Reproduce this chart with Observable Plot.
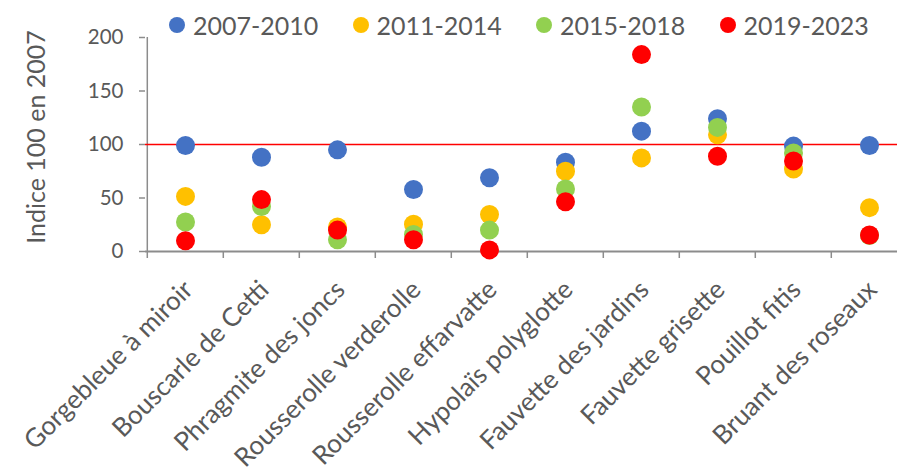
<!DOCTYPE html>
<html>
<head>
<meta charset="utf-8">
<script src="https://cdn.jsdelivr.net/npm/d3@7"></script>
<script src="https://cdn.jsdelivr.net/npm/@observablehq/plot@0.6"></script>
<style>
  html, body { margin: 0; padding: 0; background: #fff; }
  #wrap { position: relative; width: 897px; height: 475px; overflow: hidden; font-family: Lato, "Open Sans", sans-serif; }
  #legend { position: absolute; top: 10px; left: 169px; display: flex; z-index: 2; }
  .item { width: 183.5px; display: flex; align-items: center; font-size: 25px; color: #595959; line-height: 30px; }
  .sw { width: 16px; height: 16px; border-radius: 50%; margin-right: 8px; flex: none; }
  #ytitle { position: absolute; left: 35px; top: 137px; transform: translate(-50%, -50%) rotate(-90deg); font-size: 25px; color: #595959; white-space: nowrap; z-index: 2; }
</style>
</head>
<body>
<div id="wrap"></div>
<script>
const categories = ["Gorgebleue à miroir", "Bouscarle de Cetti", "Phragmite des joncs", "Rousserolle verderolle", "Rousserolle effarvatte", "Hypolaïs polyglotte", "Fauvette des jardins", "Fauvette grisette", "Pouillot fitis", "Bruant des roseaux"];
const periods = ["2007-2010", "2011-2014", "2015-2018", "2019-2023"];
const colors = ["#4472C4", "#FFC000", "#92D050", "#FF0000"];
const s2007_2010 = [99, 88, 95, 58, 69, 83.5, 112.5, 124, 98.5, 99];
const s2011_2014 = [51.5, 25, 23, 25.5, 34.5, 75, 87.5, 109, 77, 41];
const s2015_2018 = [27.5, 42, 11, 16, 20, 58.5, 135, 116, 92, 15];
const s2019_2023 = [10, 48.5, 20, 11, 1.5, 46.5, 184, 89, 84.5, 15.5];
const yTicks = [0, 50, 100, 150, 200];
const refValue = 100;
const yTitle = "Indice 100 en 2007";

const seriesValues = [s2007_2010, s2011_2014, s2015_2018, s2019_2023];
const rows = [];
periods.forEach((p, j) => categories.forEach((c, i) => rows.push({cat: c, period: p, value: seriesValues[j][i]})));

const gray = "#8c8c8c";
const half = -(909 - 145) / categories.length / 2;

const chart = Plot.plot({
  width: 897,
  height: 475,
  marginTop: 37,
  marginBottom: 224,
  marginLeft: 145,
  marginRight: 0,
  style: {fontFamily: "Lato, 'Open Sans', sans-serif", color: "#595959", background: "white", overflow: "visible"},
  x: {type: "band", domain: categories, range: [145, 909], padding: 0, label: null},
  y: {domain: [0, 200], label: null},
  color: {domain: periods, range: colors},
  marks: [
    Plot.ruleX([categories[0]], {y1: 0, y2: 200, dx: half, stroke: gray, strokeWidth: 1.5}),
    Plot.ruleX(categories, {y1: 0, y2: 0, insetBottom: -7, dx: half, stroke: gray, strokeWidth: 1.5}),
    Plot.axisY({ticks: yTicks, tickSize: 6, tickPadding: 16, fontSize: 20.5, stroke: gray, strokeWidth: 1.5, label: null}),
    Plot.ruleY([0], {stroke: gray, strokeWidth: 2}),
    Plot.axisX({tickSize: 0, tickPadding: 0, tickRotate: -45, fontSize: 26, dx: 3, dy: 34, label: null}),
    Plot.ruleY([refValue], {stroke: "#FF0000", strokeWidth: 1.3}),
    Plot.dot(rows, {x: "cat", y: "value", fill: "period", r: 9.5})
  ]
});

const wrap = document.getElementById("wrap");
const legend = document.createElement("div");
legend.id = "legend";
periods.forEach((p, j) => {
  const it = document.createElement("div");
  it.className = "item";
  it.innerHTML = `<span class="sw" style="background:${colors[j]}"></span><span>${p}</span>`;
  legend.appendChild(it);
});
wrap.appendChild(legend);
const yt = document.createElement("div");
yt.id = "ytitle";
yt.textContent = yTitle;
wrap.appendChild(yt);
wrap.appendChild(chart);
chart.style.position = "absolute";
chart.style.left = "0";
chart.style.top = "0";
</script>
</body>
</html>
